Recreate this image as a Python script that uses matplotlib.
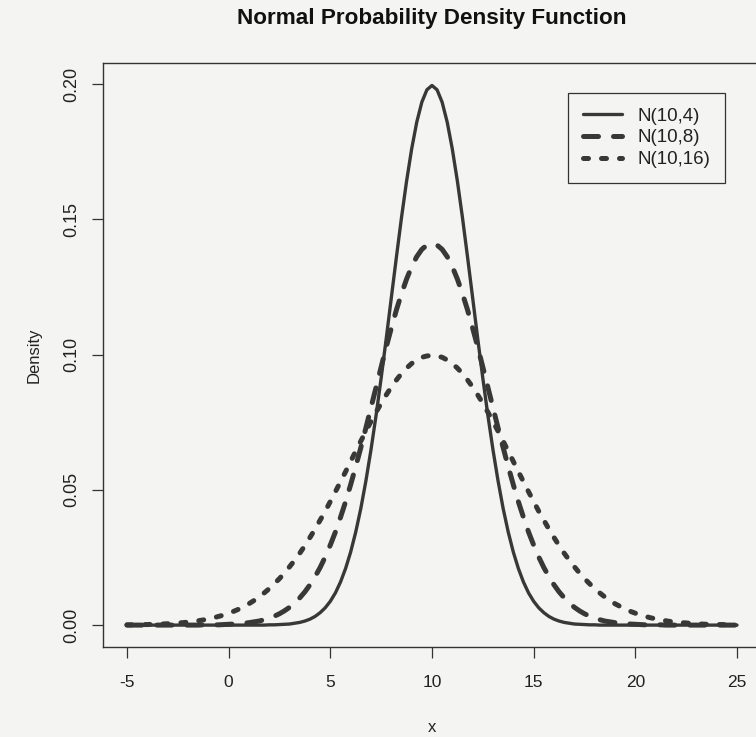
import numpy as np
import matplotlib
matplotlib.use("Agg")
import matplotlib.pyplot as plt

plt.rcParams["font.family"] = ["Liberation Sans", "DejaVu Sans"]

# x grid, -5 .. 25 in steps of 0.25
x = np.linspace(-5, 25, 121)

n_10_4 = [0, 0, 0, 0, 0, 0, 0, 0, 0, 0, 0, 0, 0, 0,
          0, 0, 0, 0, 0, 0, 0, 0, 0, 0, 0, 0, 0, 0,
          0.0001, 0.0001, 0.0002, 0.0003, 0.0004, 0.0007, 0.0010, 0.0015,
          0.0022, 0.0032, 0.0046, 0.0064, 0.0088, 0.0119, 0.0159, 0.0209,
          0.0270, 0.0344, 0.0431, 0.0533, 0.0648, 0.0775, 0.0913, 0.1059,
          0.1210, 0.1360, 0.1506, 0.1641, 0.1760, 0.1859, 0.1933, 0.1979,
          0.1995,
          0.1979, 0.1933, 0.1859, 0.1760, 0.1641, 0.1506, 0.1360, 0.1210,
          0.1059, 0.0913, 0.0775, 0.0648, 0.0533, 0.0431, 0.0344, 0.0270,
          0.0209, 0.0159, 0.0119, 0.0088, 0.0064, 0.0046, 0.0032, 0.0022,
          0.0015, 0.0010, 0.0007, 0.0004, 0.0003, 0.0002, 0.0001, 0.0001,
          0, 0, 0, 0, 0, 0, 0, 0, 0, 0, 0, 0, 0, 0,
          0, 0, 0, 0, 0, 0, 0, 0, 0, 0, 0, 0, 0, 0]

n_10_8 = [0, 0, 0, 0, 0, 0, 0, 0, 0, 0, 0, 0, 0, 0, 0,
          0.0001, 0.0001, 0.0001, 0.0001, 0.0002, 0.0003, 0.0004, 0.0005,
          0.0007, 0.0009, 0.0012, 0.0015, 0.0020, 0.0026, 0.0033, 0.0042,
          0.0053, 0.0066, 0.0082, 0.0101, 0.0123, 0.0149, 0.0179, 0.0213,
          0.0252, 0.0296, 0.0344, 0.0398, 0.0456, 0.0519, 0.0586, 0.0656,
          0.0729, 0.0804, 0.0879, 0.0954, 0.1028, 0.1098, 0.1165, 0.1225,
          0.1279, 0.1325, 0.1362, 0.1389, 0.1405,
          0.1410,
          0.1405, 0.1389, 0.1362, 0.1325, 0.1279, 0.1225, 0.1165, 0.1098,
          0.1028, 0.0954, 0.0879, 0.0804, 0.0729, 0.0656, 0.0586, 0.0519,
          0.0456, 0.0398, 0.0344, 0.0296, 0.0252, 0.0213, 0.0179, 0.0149,
          0.0123, 0.0101, 0.0082, 0.0066, 0.0053, 0.0042, 0.0033, 0.0026,
          0.0020, 0.0015, 0.0012, 0.0009, 0.0007, 0.0005, 0.0004, 0.0003,
          0.0002, 0.0001, 0.0001, 0.0001, 0.0001,
          0, 0, 0, 0, 0, 0, 0, 0, 0, 0, 0, 0, 0, 0, 0]

n_10_16 = [0.0001, 0.0001, 0.0001, 0.0002, 0.0002, 0.0003, 0.0003, 0.0004,
           0.0005, 0.0006, 0.0008, 0.0009, 0.0011, 0.0013, 0.0016, 0.0019,
           0.0023, 0.0027, 0.0032, 0.0037, 0.0044, 0.0051, 0.0059, 0.0069,
           0.0079, 0.0091, 0.0104, 0.0119, 0.0135, 0.0153, 0.0172, 0.0193,
           0.0216, 0.0240, 0.0266, 0.0294, 0.0324, 0.0355, 0.0388, 0.0421,
           0.0457, 0.0493, 0.0530, 0.0567, 0.0605, 0.0643, 0.0680, 0.0717,
           0.0753, 0.0787, 0.0820, 0.0851, 0.0880, 0.0906, 0.0930, 0.0950,
           0.0967, 0.0980, 0.0990, 0.0995,
           0.0997,
           0.0995, 0.0990, 0.0980, 0.0967, 0.0950, 0.0930, 0.0906, 0.0880,
           0.0851, 0.0820, 0.0787, 0.0753, 0.0717, 0.0680, 0.0643, 0.0605,
           0.0567, 0.0530, 0.0493, 0.0457, 0.0421, 0.0388, 0.0355, 0.0324,
           0.0294, 0.0266, 0.0240, 0.0216, 0.0193, 0.0172, 0.0153, 0.0135,
           0.0119, 0.0104, 0.0091, 0.0079, 0.0069, 0.0059, 0.0051, 0.0044,
           0.0037, 0.0032, 0.0027, 0.0023, 0.0019, 0.0016, 0.0013, 0.0011,
           0.0009, 0.0008, 0.0006, 0.0005, 0.0004, 0.0003, 0.0003, 0.0002,
           0.0002, 0.0001, 0.0001, 0.0001]

labels = ["N(10,4)", "N(10,8)", "N(10,16)"]
x_ticks = [-5, 0, 5, 10, 15, 20, 25]
y_ticks = [0.00, 0.05, 0.10, 0.15, 0.20]

bg = "#f4f4f2"
ink = "#383838"

fig = plt.figure(figsize=(7.56, 7.37), dpi=100, facecolor=bg)
ax = fig.add_axes([0.1362, 0.1221, 0.8704, 0.7924], facecolor=bg)

ax.plot(x, n_10_4, color=ink, lw=2.4, solid_capstyle="round",
        solid_joinstyle="round", label=labels[0])
ax.plot(x, n_10_8, color=ink, lw=3.6, linestyle=(0, (3, 3)),
        dash_capstyle="round", dash_joinstyle="round", label=labels[1])
ax.plot(x, n_10_16, color=ink, lw=3.6, linestyle=(0, (1.0, 2.6)),
        dash_capstyle="round", dash_joinstyle="round", label=labels[2])

ax.set_xlim(-6.18, 26.18)
ax.set_ylim(-0.0081, 0.2078)
ax.set_xticks(x_ticks)
ax.set_yticks(y_ticks)
ax.set_xticklabels([str(v) for v in x_ticks])
ax.set_yticklabels(["%.2f" % v for v in y_ticks], rotation=90, va="center")
ax.tick_params(direction="out", length=8, width=0.9, colors="#333333",
               labelcolor="#222222")
ax.tick_params(axis="x", pad=12.5, labelsize=12.5)
ax.tick_params(axis="y", pad=8.4, labelsize=13)
for s in ax.spines.values():
    s.set_color("#333333")
    s.set_linewidth(1.0)

ax.set_xlabel("x", fontsize=12, color="#222222", labelpad=21.5)
ax.set_ylabel("Density", fontsize=12, color="#222222", labelpad=15.5)
fig.text(0.5714, 0.975, "Normal Probability Density Function", ha="center",
         va="center", fontsize=16.2, fontweight="bold", color="#111111")

leg = ax.legend(loc="upper right", bbox_to_anchor=(0.945, 0.949),
                borderaxespad=0, fontsize=13.5, handlelength=2.1,
                handletextpad=0.8, labelspacing=0.25, borderpad=0.78,
                frameon=True, fancybox=False, edgecolor="#333333",
                facecolor=bg, framealpha=1)
leg.get_frame().set_linewidth(0.9)
for t in leg.get_texts():
    t.set_color("#222222")

fig.savefig("out.png", dpi=100, facecolor=bg)
